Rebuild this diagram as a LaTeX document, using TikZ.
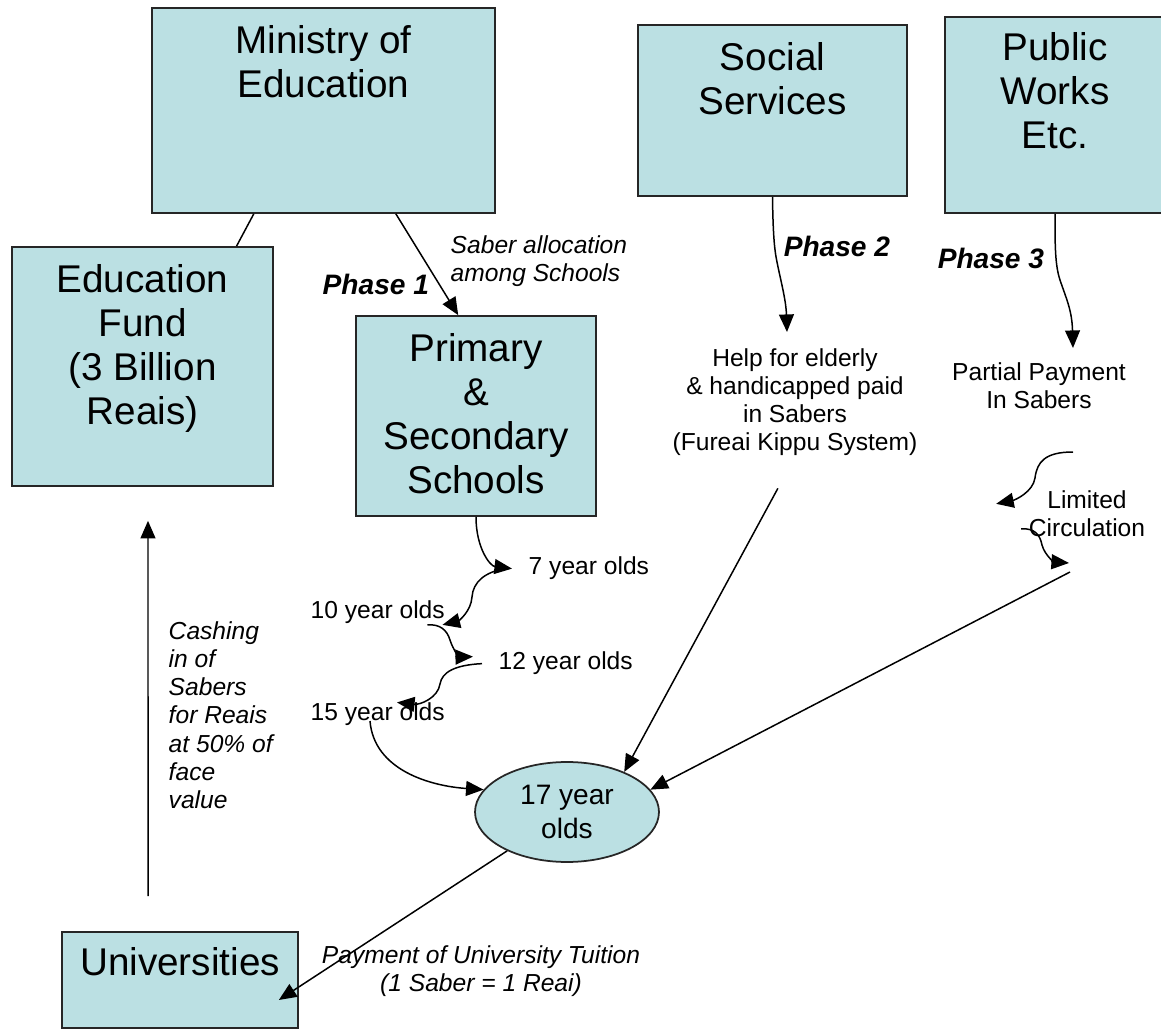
\documentclass[tikz,border=0pt]{standalone}
\usepackage{fontspec}
\setmainfont{Liberation Sans}
\usetikzlibrary{positioning,shapes.geometric,arrows.meta}
\definecolor{boxfill}{RGB}{187,224,227}

\begin{document}
\begin{tikzpicture}[x=0.02cm, y=-0.02cm, line width=0.85pt,
box/.style={draw=black!85, line width=1pt, fill=boxfill, inner sep=0pt},
big/.style={font=\fontsize{22}{25}\selectfont, align=center, inner sep=0pt},
lbl/.style={font=\fontsize{14}{16}\selectfont, align=center, inner sep=0pt},
note/.style={font=\fontsize{14}{16}\selectfont\itshape, inner sep=0pt},
phase/.style={font=\fontsize{16}{18}\selectfont\bfseries\itshape, inner sep=0pt},
edge/.style={->, >={Triangle[length=10pt,width=8.5pt]}}]

\useasboundingbox (0,0) rectangle (1161,1030);

% boxes
\node[box, minimum width=6.86cm, minimum height=4.1cm] (moe) at (323.5,110.5) {};
\node[big, below=0.36cm of moe.north] (moet) {Ministry of\\Education};
\node[box, minimum width=5.38cm, minimum height=3.42cm] (soc) at (772.5,110.5) {};
\node[big, below=0.36cm of soc.north] (soct) {Social\\Services};
\node[box, minimum width=4.4cm, minimum height=3.92cm] (pub) at (1055,115) {};
\node[big, below=0.32cm of pub.north] (pubt) {Public\\Works\\Etc.};
\node[box, minimum width=5.22cm, minimum height=4.78cm] (fund) at (142.5,366.5) {};
\node[big, below=0.36cm of fund.north] (fundt) {Education\\Fund\\(3 Billion\\Reais)};
\node[box, minimum width=4.8cm, minimum height=4cm] (school) at (476,416) {};
\node[big, below=0.36cm of school.north] (schoolt) {Primary\\\&\\Secondary\\Schools};
\node[box, minimum width=4.72cm, minimum height=1.92cm] (uni) at (180,980) {};
\node[big, below=0.32cm of uni.north] (unit) {Universities};

\node[ellipse, draw=black!85, line width=1pt, fill=boxfill, minimum width=3.68cm,
  minimum height=2cm, inner sep=0pt, font=\fontsize{16}{19}\selectfont, align=center]
  (kid) at (567,812) {17 year\\olds};

% labels
\node[note, anchor=north west, align=left] (alloc) at (450,235) {Saber allocation\\among Schools};
\node[phase, anchor=base west] (ph1) at (322,295) {Phase 1};
\node[phase, anchor=base west] (ph2) at (783,257) {Phase 2};
\node[phase, anchor=base west] (ph3) at (937,269) {Phase 3};
\node[lbl, anchor=north] (help) at (795,348) {Help for elderly\\\& handicapped paid\\in Sabers\\(Fureai Kippu System)};
\node[lbl, anchor=north] (partial) at (1039,362) {Partial Payment\\In Sabers};
\node[lbl, anchor=north] (limited) at (1087,490) {Limited\\Circulation};
\node[lbl, anchor=base west] (age7) at (528,575) {7 year olds};
\node[lbl, anchor=base west] (age10) at (310,619) {10 year olds};
\node[lbl, anchor=base west] (age12) at (498,670) {12 year olds};
\node[lbl, anchor=base west] (age15) at (310,721) {15 year olds};
\node[note, anchor=north west, align=left] (cash) at (168,621) {Cashing\\in of\\Sabers\\for Reais\\at 50\% of\\face\\value};
\node[note, anchor=north, align=center] (pay) at (481,945) {Payment of University Tuition\\(1 Saber = 1 Reai)};

\coordinate (lc1) at (1073,452);
\coordinate (lc2) at (1069,563);
\coordinate (lc3) at (1070,572);

% connectors
\draw (moe.236) -- (fund.52);
\draw[edge] (moe.305) -- (school.100);

\draw[edge] (soc.south) .. controls (773,230) and (774,248) .. (777,262)
  .. controls (781,282) and (786,300) .. ([xshift=-0.16cm,yshift=0.32cm]help.north);
\draw[edge] (pub.south) .. controls (1055,245) and (1055,265) .. (1060,280)
  .. controls (1066,298) and (1072,310) .. ([xshift=0.68cm,yshift=0.28cm]partial.north);

\draw[edge] (school.south) .. controls (476,548) and (490,566) .. ([xshift=-0.32cm]age7.west);
\draw[edge] ([xshift=-0.46cm]age7.west) .. controls (485,572) and (473,582) .. (472,597)
  .. controls (471,612) and (458,621) .. ([xshift=-0.06cm]age10.south east);
\draw[edge] ([xshift=-0.36cm]age10.south east) .. controls (440,624) and (447,630) .. (450,640)
  .. controls (453,650) and (460,657) .. ([xshift=-0.5cm,yshift=0.14cm]age12.west);
\draw[edge] ([xshift=-0.32cm]age12.west) .. controls (455,665) and (442,672) .. (440,684)
  .. controls (438,698) and (420,705) .. ([xshift=1.74cm]age15.north west);
\draw[edge] ([xshift=1.2cm]age15.base west) .. controls (374,770) and (430,786) .. (kid.165);

\draw[edge] (lc1) .. controls (1045,452) and (1037,462) .. (1035,478)
  .. controls (1033,492) and (1015,500) .. ([xshift=-0.64cm,yshift=0.2cm]limited.west);
\draw[edge] ([xshift=-0.14cm,yshift=-0.3cm]limited.west) .. controls (1035,528) and (1040,535) .. (1042,545)
  .. controls (1045,556) and (1055,562) .. (lc2);
\draw[edge] (lc3) -- (kid.15);
\draw[edge, shorten <=0.72cm] (help.south) -- (kid.35);

\draw[edge] (kid.213) -- ([xshift=-0.4cm,yshift=-0.4cm]uni.east);
\draw[edge, shorten <=0.7cm, shorten >=0.68cm] ([xshift=-0.64cm]uni.north) -- ([xshift=0.11cm]fund.south);

\end{tikzpicture}
\end{document}
